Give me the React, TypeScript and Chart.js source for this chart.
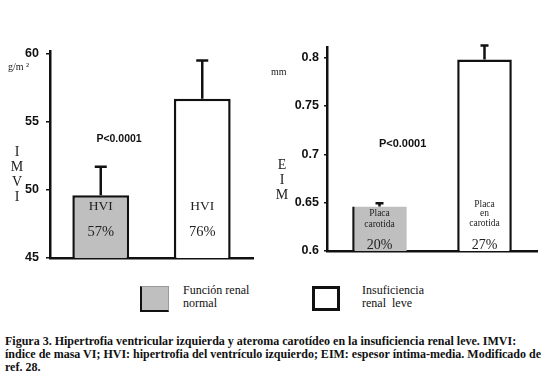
import React, { useEffect, useRef } from 'react';
import { Chart, registerables } from 'chart.js';
Chart.register(...registerables);

// ---------- data ----------
const categories = [['Función renal', 'normal'], ['Insuficiencia', 'renal  leve']];
const barColors = ['#bfbfbf', '#ffffff'];

const imviValues = [49.6, 56.7];
const imviErrors = [2.1, 2.8];
const imviTicks = [45, 50, 55, 60];
const imviBarText = [['HVI', '57%'], ['HVI', '76%']];
const imviAxisLetters = ['I', 'M', 'V', 'I'];
const imviUnit = 'g/m ²';

const eimValues = [0.646, 0.798];
const eimErrors = [0.0035, 0.0145];
const eimTicks = [0.6, 0.65, 0.7, 0.75, 0.8];
const eimBarText = [['Placa', 'carotida', '20%'], ['Placa', 'en', 'carotida', '27%']];
const eimAxisLetters = ['E', 'I', 'M'];
const eimUnit = 'mm';

const pValue = 'P<0.0001';

const captionLines = [
  'Figura 3. Hipertrofia ventricular izquierda y ateroma carotídeo en la insuficiencia renal leve. IMVI:',
  'índice de masa VI; HVI: hipertrofia del ventrículo izquierdo; EIM: espesor íntima-media. Modificado de',
  'ref. 28.',
];

const SERIF = '"Liberation Serif", "Times New Roman", serif';
const SANS = '"Liberation Sans", Arial, sans-serif';

type TextLine = { offset: number; font: string };

type PanelCfg = {
  width: number;
  height: number;
  values: number[];
  errors: number[];
  ticks: number[];
  min: number;
  max: number;
  yAxisWidth: number;
  xAxisHeight: number;
  padTop: number;
  padRight: number;
  barPct: number;
  capWidth: number;
  tickFontSize: number;
  tickLength: number;
  tickPadding: number;
  borderWidths: any[];
  barText: string[][];
  barTextStyle: TextLine[][];
  pFont: string;
  pXFrac: number;
  pYValue: number;
  letters: string[];
  lettersX: number;
  lettersY0: number;
  lettersStep: number;
  lettersFont: string;
  unit: string;
  unitX: number;
  unitY: number;
  unitFont: string;
  fmt: (v: number) => string;
};

function makeOverlay(cfg: PanelCfg) {
  return {
    id: 'overlay',
    afterDatasetsDraw(chart: any) {
      const ctx = chart.ctx;
      const y = chart.scales.y;
      const meta = chart.getDatasetMeta(0);
      ctx.save();
      // error bars
      ctx.strokeStyle = '#111';
      ctx.lineWidth = 2.5;
      meta.data.forEach((bar: any, i: number) => {
        const top = y.getPixelForValue(cfg.values[i]);
        const errTop = y.getPixelForValue(cfg.values[i] + cfg.errors[i]);
        ctx.beginPath();
        ctx.moveTo(bar.x, top);
        ctx.lineTo(bar.x, errTop);
        ctx.moveTo(bar.x - cfg.capWidth / 2, errTop);
        ctx.lineTo(bar.x + cfg.capWidth / 2, errTop);
        ctx.stroke();
      });
      // texts inside bars
      ctx.fillStyle = '#222';
      ctx.textAlign = 'center';
      ctx.textBaseline = 'middle';
      meta.data.forEach((bar: any, i: number) => {
        cfg.barText[i].forEach((t, j) => {
          const st = cfg.barTextStyle[i][j];
          ctx.font = st.font;
          ctx.fillText(t, bar.x, y.bottom - st.offset);
        });
      });
      // p value
      const ca = chart.chartArea;
      ctx.fillStyle = '#111';
      ctx.font = cfg.pFont;
      ctx.fillText(pValue, ca.left + cfg.pXFrac * (ca.right - ca.left), y.getPixelForValue(cfg.pYValue));
      // axis letters
      ctx.font = cfg.lettersFont;
      ctx.fillStyle = '#222';
      cfg.letters.forEach((l, k) => {
        ctx.fillText(l, cfg.lettersX, cfg.lettersY0 + k * cfg.lettersStep);
      });
      // unit
      ctx.font = cfg.unitFont;
      ctx.textAlign = 'left';
      ctx.fillText(cfg.unit, cfg.unitX, cfg.unitY);
      ctx.restore();
    },
  };
}

function Panel({ cfg, left }: { cfg: PanelCfg; left: number }) {
  const ref = useRef<HTMLCanvasElement | null>(null);
  useEffect(() => {
    if (!ref.current) return;
    const chart = new Chart(ref.current, {
      type: 'bar',
      data: {
        labels: categories as any,
        datasets: [
          {
            data: cfg.values,
            backgroundColor: barColors,
            borderColor: '#111',
            borderWidth: cfg.borderWidths as any,
            borderSkipped: false as any,
            barPercentage: cfg.barPct,
            categoryPercentage: 1,
          },
        ],
      },
      options: {
        animation: false,
        responsive: false,
        maintainAspectRatio: false,
        layout: { padding: { top: cfg.padTop, right: cfg.padRight, left: 0, bottom: 0 } },
        plugins: { legend: { display: false }, tooltip: { enabled: false } },
        scales: {
          x: {
            type: 'category',
            ticks: { display: false },
            grid: { display: false },
            border: { display: true, color: '#111', width: 2.5 },
            afterFit: (s: any) => {
              s.height = cfg.xAxisHeight;
            },
          },
          y: {
            type: 'linear',
            min: cfg.min,
            max: cfg.max,
            afterBuildTicks: (s: any) => {
              s.ticks = cfg.ticks.map((value) => ({ value }));
            },
            afterFit: (s: any) => {
              s.width = cfg.yAxisWidth;
            },
            ticks: {
              color: '#111',
              font: { family: SANS, size: cfg.tickFontSize, weight: 'bold' },
              padding: cfg.tickPadding,
              callback: (v: any) => cfg.fmt(Number(v)),
            },
            grid: {
              display: true,
              drawOnChartArea: false,
              drawTicks: true,
              tickLength: cfg.tickLength,
              color: '#111',
              lineWidth: 1.5,
            },
            border: { display: true, color: '#111', width: 2.5 },
          },
        },
      },
      plugins: [makeOverlay(cfg)],
    });
    return () => chart.destroy();
  }, [cfg]);
  return (
    <canvas
      ref={ref}
      width={cfg.width}
      height={cfg.height}
      style={{ position: 'absolute', left, top: 0, width: cfg.width, height: cfg.height }}
    />
  );
}

const leftCfg: PanelCfg = {
  width: 265,
  height: 280,
  values: imviValues,
  errors: imviErrors,
  ticks: imviTicks,
  min: 45,
  max: 60.2,
  yAxisWidth: 50,
  xAxisHeight: 22,
  padTop: 51,
  padRight: 12,
  barPct: 0.56,
  capWidth: 12,
  tickFontSize: 12.5,
  tickLength: 4,
  tickPadding: 7,
  borderWidths: [
    { top: 2.5, left: 2.5, right: 2.5, bottom: 0 },
    { top: 2.5, left: 2.5, right: 2.5, bottom: 0 },
  ],
  barText: imviBarText,
  barTextStyle: [
    [
      { offset: 52, font: `13.5px ${SERIF}` },
      { offset: 26, font: `14.5px ${SERIF}` },
    ],
    [
      { offset: 52, font: `13.5px ${SERIF}` },
      { offset: 26, font: `14.5px ${SERIF}` },
    ],
  ],
  pFont: `bold 10.5px ${SANS}`,
  pXFrac: 0.34,
  pYValue: 53.74,
  letters: imviAxisLetters,
  lettersX: 17,
  lettersY0: 152,
  lettersStep: 15,
  lettersFont: `14px ${SERIF}`,
  unit: imviUnit,
  unitX: 8,
  unitY: 67,
  unitFont: `10px ${SERIF}`,
  fmt: (v) => String(Math.round(v)),
};

const rightCfg: PanelCfg = {
  width: 290,
  height: 280,
  values: eimValues,
  errors: eimErrors,
  ticks: eimTicks,
  min: 0.6,
  max: 0.811,
  yAxisWidth: 67,
  xAxisHeight: 29,
  padTop: 47,
  padRight: 13,
  barPct: 0.52,
  capWidth: 8,
  tickFontSize: 12.5,
  tickLength: 3,
  tickPadding: 5,
  borderWidths: [
    { top: 0, left: 2.5, right: 0, bottom: 0 },
    { top: 2.5, left: 2.5, right: 2.5, bottom: 0 },
  ],
  barText: eimBarText,
  barTextStyle: [
    [
      { offset: 38, font: `9.5px ${SERIF}` },
      { offset: 27, font: `9.5px ${SERIF}` },
      { offset: 6, font: `14px ${SERIF}` },
    ],
    [
      { offset: 47, font: `9.5px ${SERIF}` },
      { offset: 38, font: `9.5px ${SERIF}` },
      { offset: 28, font: `9.5px ${SERIF}` },
      { offset: 6, font: `14px ${SERIF}` },
    ],
  ],
  pFont: `bold 11px ${SANS}`,
  pXFrac: 0.36,
  pYValue: 0.7104,
  letters: eimAxisLetters,
  lettersX: 22,
  lettersY0: 165,
  lettersStep: 15,
  lettersFont: `14px ${SERIF}`,
  unit: eimUnit,
  unitX: 11,
  unitY: 72,
  unitFont: `10px ${SERIF}`,
  fmt: (v) => String(parseFloat(v.toFixed(2))),
};

export default function App() {
  return (
    <div
      style={{
        position: 'fixed',
        left: 0,
        top: 0,
        width: 550,
        height: 383,
        background: '#fff',
        overflow: 'hidden',
        color: '#111',
      }}
    >
      <Panel cfg={leftCfg} left={0} />
      <Panel cfg={rightCfg} left={260} />
      {/* legend */}
      <div
        style={{
          position: 'absolute',
          left: 140,
          top: 286,
          width: 26,
          height: 23,
          background: barColors[0],
          borderLeft: '2px solid #111',
          borderBottom: '2px solid #111',
          borderTop: '1px solid #999',
          borderRight: '1px solid #999',
        }}
      />
      <div
        style={{
          position: 'absolute',
          left: 183,
          top: 284,
          font: `12px ${SERIF}`,
          lineHeight: '12.5px',
          whiteSpace: 'nowrap',
        }}
      >
        {categories[0].map((l, i) => (
          <div key={i}>{l}</div>
        ))}
      </div>
      <div
        style={{
          position: 'absolute',
          left: 312,
          top: 286,
          width: 22,
          height: 19,
          background: barColors[1],
          border: '3px solid #111',
        }}
      />
      <div
        style={{
          position: 'absolute',
          left: 362,
          top: 284,
          font: `12px ${SERIF}`,
          lineHeight: '12.5px',
          whiteSpace: 'pre',
        }}
      >
        {categories[1].map((l, i) => (
          <div key={i}>{l}</div>
        ))}
      </div>
      {/* caption */}
      <div
        style={{
          position: 'absolute',
          left: 5,
          top: 335,
          font: `bold 12px ${SERIF}`,
          lineHeight: '13px',
          whiteSpace: 'nowrap',
        }}
      >
        {captionLines.map((l, i) => (
          <div key={i}>{l}</div>
        ))}
      </div>
    </div>
  );
}
